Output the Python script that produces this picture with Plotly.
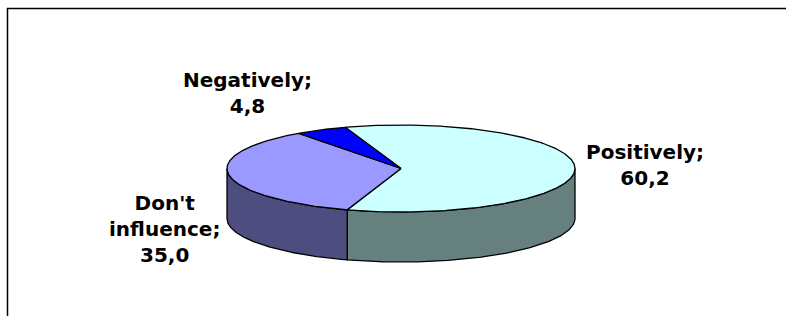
import numpy as np
import plotly.graph_objects as go

# ---- data ----
categories = ["Positively", "Don't influence", "Negatively"]
values = [60.2, 35.0, 4.8]
value_labels = ["60,2", "35,0", "4,8"]
label_text = ["Positively;", "Don't<br>influence;", "Negatively;"]

top_colors = ["#CCFFFF", "#9999FF", "#0000FF"]
side_colors = ["#668080", "#4D4D80", "#000080"]

# ---- geometry (pixel-like coordinate system) ----
W, H = 786, 316
cx, cy = 401.0, 168.5
a, b = 174.0, 43.5
depth = 50.0
start_deg = 108.7  # first slice starts here (math angle) and runs clockwise

label_pos = [(645, 165), (164, 229), (247, 93)]


def pt(t_deg, dy=0.0):
    t = np.radians(t_deg)
    return cx + a * np.cos(t), cy - b * np.sin(t) + dy


total = sum(values)
slices = []
ang = start_deg
for v in values:
    span = v / total * 360.0
    slices.append((ang, ang - span))
    ang -= span

fig = go.Figure()

# side walls (front half only)
for i, (t1, t2) in enumerate(slices):
    for k in range(-3, 4):
        lo = max(t2, k * 360 - 180)
        hi = min(t1, k * 360)
        if hi - lo <= 1e-6:
            continue
        ts = np.linspace(hi, lo, 120)
        top = [pt(t) for t in ts]
        bot = [pt(t, depth) for t in ts[::-1]]
        poly = top + bot + [top[0]]
        fig.add_trace(go.Scatter(
            x=[p[0] for p in poly], y=[p[1] for p in poly],
            mode="lines", fill="toself", fillcolor=side_colors[i],
            line=dict(color="black", width=1.3), hoverinfo="skip",
            showlegend=False))

# top faces
for i, (t1, t2) in enumerate(slices):
    ts = np.linspace(t1, t2, max(int(abs(t1 - t2) * 2), 8))
    arc = [pt(t) for t in ts]
    poly = [(cx, cy)] + arc + [(cx, cy)]
    fig.add_trace(go.Scatter(
        x=[p[0] for p in poly], y=[p[1] for p in poly],
        mode="lines", fill="toself", fillcolor=top_colors[i],
        line=dict(color="black", width=1.3), hoverinfo="text",
        text=f"{categories[i]}: {value_labels[i]}",
        showlegend=False))

# labels
for i in range(len(categories)):
    x, y = label_pos[i]
    fig.add_annotation(
        x=x, y=y, xref="x", yref="y",
        text=f"<b>{label_text[i]}<br>{value_labels[i]}</b>",
        showarrow=False, xanchor="center", yanchor="middle", align="center",
        font=dict(family="DejaVu Sans", size=20, color="black"))

# chart-area frame (left and top edges visible)
fig.add_shape(type="path", xref="x", yref="y",
              path=f"M 7.5 {H + 5} L 7.5 8.5 L {W + 5} 8.5",
              line=dict(color="black", width=1.5))

fig.update_xaxes(range=[0, W], visible=False, fixedrange=True)
fig.update_yaxes(range=[H, 0], visible=False, fixedrange=True)
fig.update_layout(
    width=W, height=H,
    margin=dict(l=0, r=0, t=0, b=0),
    paper_bgcolor="white", plot_bgcolor="white",
    showlegend=False,
)

fig.write_html(
    "out.html",
    config={"displayModeBar": False},
    post_script="document.body.style.margin='0';document.body.style.overflow='hidden';",
)
